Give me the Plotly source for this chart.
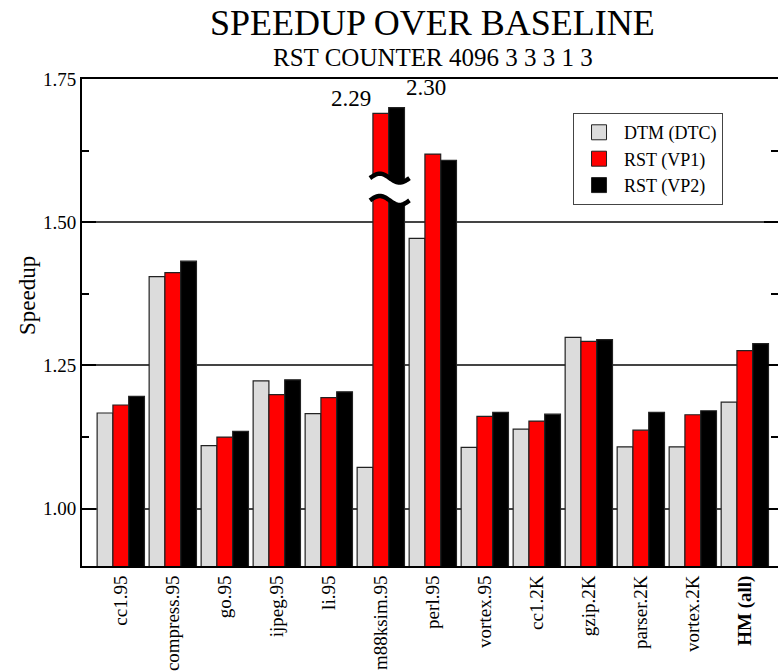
import math
import plotly.graph_objects as go

# Benchmarks and speedups over the baseline machine
benchmarks = ["cc1.95", "compress.95", "go.95", "ijpeg.95", "li.95", "m88ksim.95",
              "perl.95", "vortex.95", "cc1.2K", "gzip.2K", "parser.2K", "vortex.2K",
              "<b>HM (all)</b>"]
dtm_dtc = [1.167, 1.405, 1.110, 1.223, 1.166, 1.072, 1.472, 1.107, 1.139, 1.299, 1.108, 1.108, 1.186]
rst_vp1 = [1.181, 1.412, 1.125, 1.199, 1.194, 2.29, 1.619, 1.161, 1.153, 1.292, 1.137, 1.164, 1.276]
rst_vp2 = [1.196, 1.432, 1.135, 1.225, 1.204, 2.30, 1.608, 1.168, 1.165, 1.295, 1.168, 1.171, 1.288]

series_names = ["DTM (DTC)", "RST (VP1)", "RST (VP2)"]
series_colors = ["#dcdcdc", "#ff0000", "#000000"]

y_ticks = [1.00, 1.25, 1.50, 1.75]
Y_MIN, Y_MAX = 0.90, 1.75
BREAK_SHIFT = 0.60          # bars above the axis top are drawn shortened by this amount
BREAK_UPPER, BREAK_LOWER = 1.577, 1.538   # centre lines of the axis-break squiggles

FONT = "Liberation Serif, Times New Roman, serif"
BARGAP = 0.09


def shown(v):
    return v - BREAK_SHIFT if v > Y_MAX else v


xs = list(range(len(benchmarks)))
fig = go.Figure()

for name, vals, col in zip(series_names, [dtm_dtc, rst_vp1, rst_vp2], series_colors):
    fig.add_trace(go.Bar(
        x=xs, y=[shown(v) for v in vals], name=name, showlegend=False,
        customdata=vals, hovertemplate="%{customdata:.2f}<extra>" + name + "</extra>",
        marker=dict(color=col, line=dict(color="#222222", width=1.2)),
    ))

# legend swatches
for name, col in zip(series_names, series_colors):
    fig.add_trace(go.Scatter(
        x=[None], y=[None], mode="markers", name=name,
        marker=dict(symbol="square", size=15, color=col, line=dict(color="#222222", width=1)),
    ))

# carrier for the right-hand tick marks
fig.add_trace(go.Scatter(x=[None], y=[None], yaxis="y2", showlegend=False, hoverinfo="skip"))

# value labels and axis-break marks for the clipped bars
bar_w = (1 - BARGAP) / 3
shapes = []
annotations = []
for i in xs:
    broken = [(k, v) for k, v in enumerate([dtm_dtc[i], rst_vp1[i], rst_vp2[i]]) if v > Y_MAX]
    if not broken:
        continue
    for k, v in broken:
        left = i + (k - 1.5) * bar_w
        right = left + bar_w
        if k == 1:
            annotations.append(dict(x=left, y=shown(v), xref="x", yref="y", text=f"{v:.2f}",
                                    showarrow=False, xanchor="right", yanchor="bottom",
                                    font=dict(family=FONT, size=23, color="black")))
        else:
            annotations.append(dict(x=right, y=shown(v), xref="x", yref="y", text=f"{v:.2f}",
                                    showarrow=False, xanchor="left", yanchor="bottom",
                                    yshift=6, font=dict(family=FONT, size=23, color="black")))
    k0 = min(k for k, _ in broken)
    k1 = max(k for k, _ in broken)
    x0 = i + (k0 - 1.5) * bar_w - 3 / 52
    x1 = i + (k1 - 0.5) * bar_w + 5 / 52
    amp = 4.5 / 576
    n = 40
    ts = [j / n for j in range(n + 1)]

    def curve(yc, ts_):
        return [(x0 + t * (x1 - x0), yc + amp * math.sin(2 * math.pi * t)) for t in ts_]

    up = curve(BREAK_UPPER, ts)
    lo = curve(BREAK_LOWER, ts[::-1])
    poly = "M " + " L ".join(f"{px:.5f},{py:.5f}" for px, py in up + lo) + " Z"
    shapes.append(dict(type="path", path=poly, xref="x", yref="y", layer="above",
                       fillcolor="white", line=dict(width=0)))
    for pts in (up, lo):
        p = "M " + " L ".join(f"{px:.5f},{py:.5f}" for px, py in pts)
        shapes.append(dict(type="path", path=p, xref="x", yref="y", layer="above",
                           line=dict(color="black", width=4.5)))

annotations += [
    dict(text="SPEEDUP OVER BASELINE", x=0.504, y=1.116, xref="paper", yref="paper",
         showarrow=False, xanchor="center", yanchor="middle", borderpad=0,
         font=dict(family=FONT, size=36, color="black")),
    dict(text="RST COUNTER 4096 3 3 3 1 3", x=0.504, y=1.044, xref="paper", yref="paper",
         showarrow=False, xanchor="center", yanchor="middle", borderpad=0,
         font=dict(family=FONT, size=25, color="black")),
    dict(text="Speedup", x=-0.078, y=0.556, xref="paper", yref="paper", textangle=-90,
         showarrow=False, xanchor="center", yanchor="middle",
         font=dict(family=FONT, size=23, color="black")),
]

yaxis_common = dict(
    range=[Y_MIN, Y_MAX], tickvals=y_ticks, ticks="inside", ticklen=14, tickwidth=1.5,
    tickcolor="black",
    minor=dict(dtick=0.125, tick0=1.0, ticks="inside", ticklen=7, tickwidth=1.5,
               tickcolor="black", showgrid=False),
)

fig.update_layout(
    width=778, height=671,
    margin=dict(l=82, r=0, t=79, b=103),
    paper_bgcolor="white", plot_bgcolor="white",
    barmode="group", bargap=BARGAP, bargroupgap=0,
    font=dict(family=FONT, color="black"),
    xaxis=dict(range=[-0.746, 12.638], tickvals=xs, ticktext=benchmarks, tickangle=-90,
               ticks="", showline=True, mirror=True, linecolor="black", linewidth=2,
               showgrid=False, zeroline=False, tickfont=dict(family=FONT, size=19)),
    yaxis=dict(**yaxis_common, tickformat=".2f", showline=True, mirror=False,
               linecolor="black", linewidth=2, showgrid=True, gridcolor="#444444",
               gridwidth=1.5, zeroline=False, tickfont=dict(family=FONT, size=19)),
    yaxis2=dict(**yaxis_common, overlaying="y", side="right", showticklabels=False,
                showgrid=False, showline=False, zeroline=False),
    legend=dict(x=0.7055, y=0.930, xanchor="left", yanchor="top",
                bgcolor="white", bordercolor="#444444", borderwidth=1,
                itemwidth=40, tracegroupgap=0,
                font=dict(family=FONT, size=18, color="black"), traceorder="normal"),
    shapes=shapes, annotations=annotations,
)

fig.write_html("out.html")
